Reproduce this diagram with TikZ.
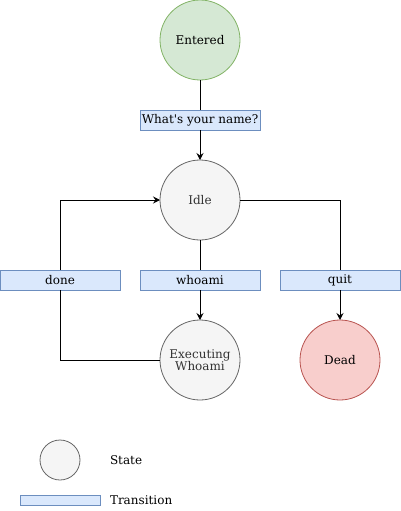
\documentclass[tikz,border=0pt]{standalone}
\usepackage{fontspec}
\setmainfont{DejaVu Serif}
\usetikzlibrary{arrows.meta}
\definecolor{gfill}{HTML}{D5E8D4}
\definecolor{gdraw}{HTML}{82B366}
\definecolor{sfill}{HTML}{F5F5F5}
\definecolor{sdraw}{HTML}{666666}
\definecolor{stext}{HTML}{333333}
\definecolor{rfill}{HTML}{F8CECC}
\definecolor{rdraw}{HTML}{B85450}
\definecolor{bfill}{HTML}{DAE8FC}
\definecolor{bdraw}{HTML}{6C8EBF}
\begin{document}
\begin{tikzpicture}[x=1pt,y=-1pt,
  every node/.style={font=\fontsize{12}{14}\selectfont, inner sep=0pt, outer sep=0pt},
  state/.style={circle, draw=sdraw, fill=sfill, text=stext, minimum size=80pt, line width=0.8pt, align=center},
  startstate/.style={state, draw=gdraw, fill=gfill, text=black},
  deadstate/.style={state, draw=rdraw, fill=rfill, text=black},
  trans/.style={rectangle, draw=bdraw, fill=bfill, minimum width=120pt, minimum height=20pt, line width=0.8pt},
  conn/.style={line width=1pt, black},
  arr/.style={conn, -{Stealth[length=7pt,width=7pt,inset=2.5pt]}}
]
\useasboundingbox (0,0) rectangle (401,511);
\node[startstate] (entered) at (200,40) {Entered};
\node[state] (idle) at (200,200) {Idle};
\node[state] (exec) at (200,360) {Executing\\[-2pt]Whoami};
\node[deadstate] (dead) at (340,360) {Dead};
\node[trans] (name) at (200,120) {What\textquotesingle s your name?};
\node[trans] (done) at (60,280) {done};
\node[trans] (whoami) at (200,280) {whoami};
\node[trans] (quit) at (340,280) {quit};
\draw[conn] (entered) -- (name);
\draw[arr] (name) -- (idle);
\draw[conn] (idle) -- (whoami);
\draw[arr] (whoami) -- (exec);
\draw[conn] (idle.east) -| (quit);
\draw[arr] (quit) -- (dead);
\draw[conn] (exec.west) -| (done);
\draw[arr] (done) |- (idle.west);
\node[state, minimum size=40pt] (legstate) at (60,460) {};
\node[anchor=west] (legstatetext) at (110,460) {State};
\node[trans, minimum width=80pt, minimum height=10pt] (legtrans) at (60,500) {};
\node[anchor=west] (legtranstext) at (110,500) {Transition};
\end{tikzpicture}
\end{document}
